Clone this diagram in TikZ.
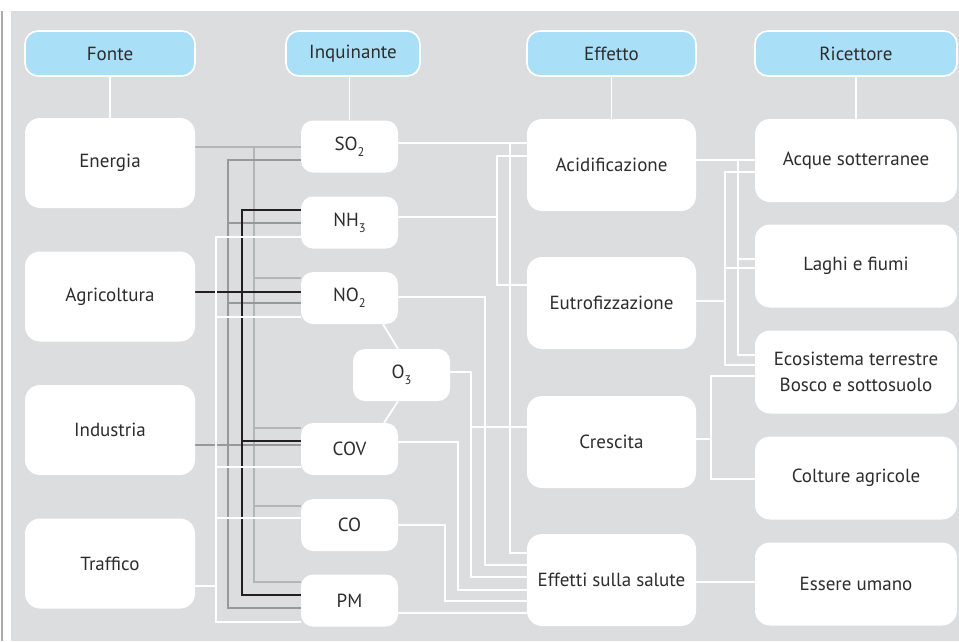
\documentclass[tikz,border=0pt]{standalone}
\usepackage{fontspec}
\setmainfont{PT Sans}
\definecolor{panel}{RGB}{220,221,223}
\definecolor{hdr}{RGB}{170,223,248}
\definecolor{lgray}{RGB}{181,181,181}
\definecolor{mgray}{RGB}{152,152,152}
\definecolor{dk}{RGB}{35,31,32}
\definecolor{txt}{RGB}{45,45,45}
\definecolor{edgeline}{RGB}{170,170,170}
\newcommand\lowidx[1]{\raisebox{-0.6ex}{\fontsize{12.5}{12.5}\selectfont #1}}
\pgfdeclarelayer{bg}
\pgfsetlayers{bg,main}
\begin{document}
\begin{tikzpicture}[x=1pt,y=-1pt,
  box/.style={fill=white, rounded corners=15pt, inner sep=0pt, text=txt,
    font=\fontsize{19}{26}\selectfont, align=center},
  hdrbox/.style={box, fill=hdr, draw=white, line width=1.6pt, rounded corners=13pt, minimum height=45pt},
  srcbox/.style={box, minimum width=170pt, minimum height=90pt},
  polbox/.style={box, rounded corners=12pt, minimum width=97pt, minimum height=52pt},
  effbox/.style={box, minimum width=169pt, minimum height=92pt},
  recbox/.style={box, minimum width=202pt, minimum height=83pt},
  conn/.style={line width=1.8pt},
  lgl/.style={conn, draw=lgray},
  mgl/.style={conn, draw=mgray},
  dkl/.style={conn, draw=dk},
  wl/.style={conn, draw=white}]
\useasboundingbox (0,0) rectangle (959,641);
\begin{pgfonlayer}{bg}
\fill[panel] (11,11) rectangle (959,641);
\draw[edgeline, line width=1.2pt] (2,11) -- (2,641);
\end{pgfonlayer}
% headers
\node[hdrbox, minimum width=170pt] (hfonte) at (110,53.5) {Fonte};
\node[hdrbox, minimum width=134pt] (hinq) at (353,53.5) {Inquinante};
\node[hdrbox, minimum width=169pt] (heff) at (611.5,53.5) {Effetto};
\node[hdrbox, minimum width=202pt] (hric) at (856,53.5) {Ricettore};
% sources
\node[srcbox] (energia) at (110,163) {Energia};
\node[srcbox] (agri) at (110,296.5) {Agricoltura};
\node[srcbox] (industria) at (110,430) {Industria};
\node[srcbox] (traffico) at (110,563.5) {Traffico};
% pollutants
\node[polbox] (so2) at (349.5,146.5) {SO\lowidx{2}};
\node[polbox] (nh3) at (349.5,222.5) {NH\lowidx{3}};
\node[polbox] (no2) at (349.5,298) {NO\lowidx{2}};
\node[polbox] (o3) at (401.5,375) {O\lowidx{3}};
\node[polbox] (cov) at (349.5,449) {COV};
\node[polbox] (co) at (349.5,525) {CO};
\node[polbox] (pm) at (349.5,600.5) {PM};
% effects
\node[effbox] (acid) at (611.5,165) {Acidificazione};
\node[effbox] (eutro) at (611.5,303) {Eutrofizzazione};
\node[effbox] (crescita) at (611.5,442) {Crescita};
\node[effbox] (salute) at (611.5,580) {Effetti sulla salute};
% receptors
\node[recbox] (acque) at (856,160.5) {Acque sotterranee};
\node[recbox] (laghi) at (856,266) {Laghi e fiumi};
\node[recbox] (eco) at (856,372) {Ecosistema terrestre\\Bosco e sottosuolo};
\node[recbox] (colture) at (856,478) {Colture agricole};
\node[recbox] (umano) at (856,584) {Essere umano};
% bus coordinates
\coordinate (busE) at (254,0);
\coordinate (busI) at (228,0);
\coordinate (busA) at (242,0);
\coordinate (busT) at (216,0);
\coordinate (busS) at (510,0);
\coordinate (busN) at (497,0);
\coordinate (busNO) at (485,0);
\coordinate (busO) at (471,0);
\coordinate (busV) at (458,0);
\coordinate (busC) at (445,0);
\coordinate (busAc) at (738,0);
\coordinate (busEu) at (725,0);
\coordinate (busCr) at (711,0);
\begin{pgfonlayer}{bg}
% header stems
\draw[wl] (hfonte.south) -- (energia.north);
\draw[wl] (so2.north |- hinq.south) -- (so2.north);
\draw[wl] (heff.south) -- (acid.north);
\draw[wl] (hric.south) -- (acque.north);
% Energia (light gray)
\draw[lgl] (energia.east |- 0,147) -- (so2.west |- 0,147);
\foreach \t/\y in {no2/278, cov/428, co/506, pm/582}
  \draw[lgl] (energia.east |- 0,147) -| (busE |- 0,\y) -- (\t.west |- 0,\y);
% Industria (medium gray)
\draw[mgl] (industria.east |- 0,445) -- (cov.west |- 0,445);
\foreach \t/\y in {so2/160, nh3/223, no2/303, pm/608}
  \draw[mgl] (industria.east |- 0,445) -| (busI |- 0,\y) -- (\t.west |- 0,\y);
% Agricoltura (black)
\draw[dkl] (agri.east |- 0,292) -- (no2.west |- 0,292);
\foreach \t/\y in {nh3/210, cov/441, pm/595}
  \draw[dkl] (agri.east |- 0,292) -| (busA |- 0,\y) -- (\t.west |- 0,\y);
% Traffico (white)
\foreach \t/\y in {nh3/237, no2/317, cov/467, co/518, pm/622}
  \draw[wl] (traffico.east |- 0,586) -| (busT |- 0,\y) -- (\t.west |- 0,\y);
% pollutant -> effect
\draw[wl] (so2.east |- 0,143) -- (acid.west |- 0,143);
\draw[wl] (so2.east |- 0,143) -| (busS |- 0,553) -- (salute.west |- 0,553);
\draw[wl] (nh3.east |- 0,217) -| (busN |- 0,156) -- (acid.west |- 0,156);
\draw[wl] (nh3.east |- 0,217) -| (busN |- 0,285) -- (eutro.west |- 0,285);
\draw[wl] (no2.east |- 0,297) -| (busNO |- 0,565) -- (salute.west |- 0,565);
\draw[wl] (o3.east |- 0,372) -| (busO |- 0,427) -- (crescita.west |- 0,427);
\draw[wl] (o3.east |- 0,372) -| (busO |- 0,577) -- (salute.west |- 0,577);
\draw[wl] (cov.east |- 0,442) -| (busV |- 0,590) -- (salute.west |- 0,590);
\draw[wl] (co.east |- 0,525) -| (busC |- 0,601) -- (salute.west |- 0,601);
\draw[wl] (pm.east |- 0,613) -- (salute.west |- 0,613);
\draw[wl] ([xshift=33.5pt]no2.south) -- ([xshift=-3.5pt]o3.north);
\draw[wl] ([xshift=-3.5pt]o3.south) -- ([xshift=34.5pt]cov.north);
% effect -> receptor
\draw[wl] (acid.east |- 0,160) -- (acque.west |- 0,160);
\draw[wl] (acid.east |- 0,160) -| (busAc |- 0,259) -- (laghi.west |- 0,259);
\draw[wl] (acid.east |- 0,160) -| (busAc |- 0,355) -- (eco.west |- 0,355);
\draw[wl] (eutro.east |- 0,301) -| (busEu |- 0,172) -- (acque.west |- 0,172);
\draw[wl] (eutro.east |- 0,301) -| (busEu |- 0,268) -- (laghi.west |- 0,268);
\draw[wl] (eutro.east |- 0,301) -| (busEu |- 0,365) -- (eco.west |- 0,365);
\draw[wl] (crescita.east |- 0,439) -| (busCr |- 0,376) -- (eco.west |- 0,376);
\draw[wl] (crescita.east |- 0,439) -| (busCr |- 0,479) -- (colture.west |- 0,479);
\draw[wl] (salute.east |- 0,582) -- (umano.west |- 0,582);
\end{pgfonlayer}
\end{tikzpicture}
\end{document}
